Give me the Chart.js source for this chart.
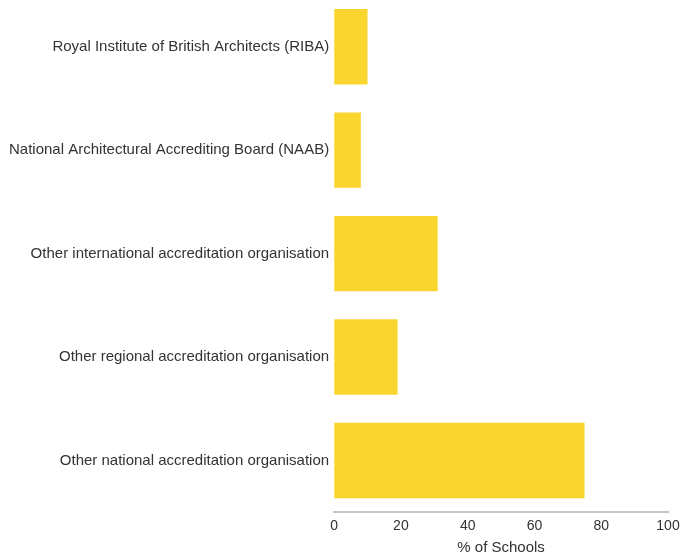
<!DOCTYPE html>
<html>
<head>
<meta charset="utf-8">
<script src="https://cdn.jsdelivr.net/npm/chart.js@4/dist/chart.umd.min.js"></script>
<style>
  html, body { margin: 0; padding: 0; background: #fff; overflow: hidden; }
  /* first bar touches the top edge in the original, so pull the canvas up a bit */
  #wrap { width: 681px; height: 563px; margin-top: -5px; }
</style>
</head>
<body>
<div id="wrap"><canvas id="chart"></canvas></div>
<script>
const categories = [
  'Royal Institute of British Architects (RIBA)',
  'National Architectural Accrediting Board (NAAB)',
  'Other international accreditation organisation',
  'Other regional accreditation organisation',
  'Other national accreditation organisation',
];
const percentSchools = [10, 8, 31, 19, 75];
const xTicks = [0, 20, 40, 60, 80, 100];

Chart.defaults.font.family = '"Liberation Sans", Arial, sans-serif';
Chart.defaults.font.size = 15;
Chart.defaults.color = '#333';

new Chart('chart', {
  type: 'bar',
  data: {
    labels: categories,
    datasets: [{
      data: percentSchools,
      backgroundColor: '#f9d52e',
      barPercentage: 0.9,
      categoryPercentage: 0.81,
    }],
  },
  options: {
    indexAxis: 'y',
    responsive: true,
    maintainAspectRatio: false,
    animation: false,
    layout: { padding: { top: 0, right: 0, left: 4, bottom: -1 } },
    plugins: {
      legend: { display: false },
      tooltip: { enabled: false },
    },
    scales: {
      x: {
        min: xTicks[0],
        max: xTicks[xTicks.length - 1],
        grid: { display: false, drawTicks: false },
        border: { display: true, color: '#c4c4c4', width: 2 },
        ticks: { stepSize: 20, padding: 6, color: '#333', font: { size: 14 } },
        title: { display: true, text: '% of Schools', color: '#333', padding: { top: -2, bottom: 2 } },
        afterFit(scale) {
          scale.paddingRight = 13;
        },
      },
      y: {
        grid: { display: false, drawTicks: false },
        border: { display: false },
        ticks: { padding: 5, color: '#333' },
        afterFit(scale) {
          scale.paddingTop = 0;
          scale.paddingBottom = 0;
        },
      },
    },
  },
});
</script>
</body>
</html>
